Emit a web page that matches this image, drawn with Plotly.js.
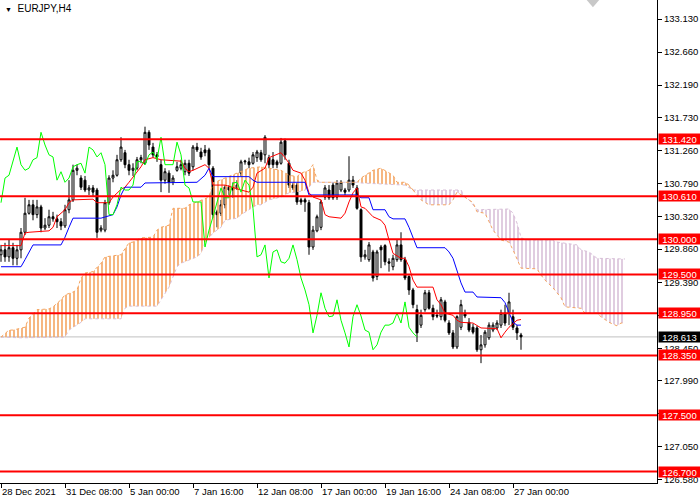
<!DOCTYPE html>
<html>
<head>
<meta charset="utf-8">
<script src="https://cdn.plot.ly/plotly-3.0.1.min.js"></script>
<style>html,body{margin:0;padding:0;background:#fff;}#chart{width:700px;height:500px;}</style>
</head>
<body>
<div id="chart"></div>
<script>
// ---- Candles (EURJPY H4) ----
const opens = [129.78,129.85,129.75,129.88,129.73,129.85,130.10,130.37,130.49,130.35,
130.46,130.16,130.20,130.32,130.29,130.25,130.19,130.42,130.56,130.98,
130.87,130.84,130.70,130.73,130.70,130.13,130.13,130.52,130.87,130.91,
131.13,131.23,131.06,130.98,131.01,131.13,131.08,131.52,131.31,131.20,
131.06,130.84,130.94,130.81,130.98,131.01,130.96,131.08,131.03,131.31,
131.24,131.27,131.27,131.01,130.39,130.37,130.49,130.74,130.74,130.73,
130.94,131.10,131.10,131.08,131.16,131.23,131.20,131.16,131.13,131.10,
131.08,131.40,131.08,130.77,130.77,130.56,130.56,130.52,129.89,130.12,
130.17,130.60,130.70,130.77,130.60,130.70,130.70,130.70,130.84,130.73,
130.42,129.75,129.71,129.82,129.47,129.89,129.91,129.68,129.61,129.71,
129.92,129.71,129.47,129.28,129.00,128.78,129.00,129.24,129.02,128.92,
128.90,129.11,128.81,128.67,128.47,128.75,128.95,128.82,128.75,128.74,
128.43,128.50,128.60,128.71,128.74,128.78,128.95,128.95,128.90,128.74,
128.64];
const highs = [129.92,129.95,129.99,129.95,129.92,130.16,130.59,130.56,130.56,130.56,
130.49,130.30,130.42,130.39,130.35,130.30,130.49,130.84,131.06,131.06,
130.91,130.90,130.77,130.77,130.73,130.20,130.56,130.91,130.98,131.20,
131.45,131.27,131.13,131.08,131.17,131.20,131.60,131.55,131.37,131.24,
131.13,131.01,130.98,130.91,131.10,131.13,131.13,131.13,131.34,131.37,
131.30,131.34,131.30,131.04,130.42,130.56,130.77,130.77,130.81,130.84,
131.13,131.13,131.16,131.24,131.27,131.27,131.48,131.20,131.24,131.13,
131.44,131.43,131.13,130.80,130.80,130.59,130.59,130.56,130.19,130.35,
130.56,130.77,130.77,130.81,130.84,130.84,130.73,131.18,130.90,130.77,
130.44,129.85,129.96,129.85,129.85,129.92,129.93,129.73,129.78,129.99,
130.10,129.75,129.49,129.31,129.07,129.00,129.28,129.28,129.07,129.00,
129.18,129.14,128.85,128.71,128.92,129.14,129.00,128.88,128.80,128.77,
128.64,128.71,128.82,128.82,128.85,129.00,129.07,129.24,129.00,128.78,
128.67];
const lows = [129.68,129.68,129.68,129.63,129.63,129.73,130.06,130.35,130.27,130.30,
130.10,130.13,130.16,130.25,130.16,130.13,130.16,130.37,130.53,130.91,
130.70,130.67,130.63,130.60,130.02,130.10,130.10,130.49,130.81,130.89,
131.10,131.01,130.91,130.90,130.98,131.08,131.06,131.27,131.16,131.10,
130.67,130.79,130.66,130.77,130.96,130.98,130.91,130.90,130.98,131.24,
131.13,131.18,131.01,130.30,130.17,130.33,130.44,130.63,130.59,130.70,
130.90,131.06,131.01,131.06,131.10,131.10,131.08,131.01,131.01,131.01,
131.06,131.13,130.73,130.70,130.49,130.49,130.39,129.78,129.85,130.10,
130.13,130.56,130.56,130.56,130.56,130.67,130.63,130.67,130.73,130.42,
129.68,129.71,129.68,129.40,129.42,129.59,129.63,129.54,129.56,129.68,
129.68,129.42,129.21,129.02,128.54,128.74,128.97,129.00,128.85,128.88,
128.85,128.82,128.64,128.44,128.44,128.71,128.88,128.68,128.65,128.40,
128.24,128.46,128.57,128.68,128.71,128.74,128.77,128.78,128.71,128.57,
128.43];
const closes = [129.85,129.75,129.88,129.73,129.85,130.10,130.37,130.49,130.35,130.46,
130.16,130.20,130.32,130.29,130.25,130.19,130.42,130.56,130.98,131.01,
130.74,130.70,130.73,130.67,130.10,130.16,130.52,130.87,130.91,131.13,
131.31,131.06,130.98,131.01,131.13,131.16,131.52,131.34,131.20,131.17,
130.84,130.96,130.81,130.87,131.03,131.06,131.08,130.94,131.31,131.27,
131.17,131.23,131.06,130.35,130.35,130.49,130.74,130.70,130.70,130.77,
131.10,131.11,131.06,131.20,131.24,131.13,131.45,131.06,131.06,131.06,
131.38,131.20,130.77,130.73,130.53,130.53,130.53,129.89,130.13,130.32,
130.53,130.73,130.59,130.59,130.80,130.81,130.67,130.84,130.77,130.44,
129.75,129.78,129.92,129.45,129.82,129.85,129.68,129.66,129.73,129.92,
129.71,129.45,129.28,129.07,128.67,128.92,129.24,129.02,128.90,128.91,
129.14,128.85,128.67,128.47,128.90,129.07,128.91,128.71,128.68,128.43,
128.50,128.68,128.78,128.78,128.81,128.95,128.81,129.11,128.75,128.67,
128.613];
const chikouShift = 26;

// ---- Ichimoku lines (bar index, price) ----
const tenkanIdx = [0,5,6,7,12,13,14,15,16,17,18,23,24,27,28,30,31,32,35,36,38,40,45,46,47,48,50,51,52,53,56,58,60,62,63,64,65,66,67,69,70,71,72,73,75,76,77,78,80,81,82,85,86,87,88,89,90,91,93,95,96,97,98,100,101,102,103,104,108,109,110,111,113,114,115,118,120,124,125,126,127,129,130];
const tenkanVal = [129.91,129.91,130.09,130.10,130.12,130.17,130.32,130.37,130.42,130.52,130.56,130.57,130.52,130.52,130.60,130.71,130.74,130.81,131.03,131.13,131.16,131.13,131.11,131.01,130.96,130.98,131.03,131.06,131.01,130.77,130.77,130.73,130.70,130.67,130.74,130.94,130.98,131.01,131.16,131.20,131.23,131.16,131.08,130.98,130.94,130.84,130.66,130.60,130.56,130.35,130.32,130.30,130.37,130.53,130.66,130.73,130.46,130.44,130.32,130.27,130.20,129.99,129.80,129.73,129.73,129.61,129.42,129.32,129.32,129.14,129.07,128.95,128.92,128.85,128.82,128.81,128.74,128.73,128.60,128.68,128.75,128.85,128.86];
const kijunIdx = [0,5,6,7,8,15,16,17,18,25,26,28,29,30,31,35,36,49,50,51,52,53,54,62,63,64,76,77,89,90,92,93,96,97,98,101,102,103,104,111,112,113,114,115,116,118,119,125,126,127,128,129,130];
const kijunVal = [129.61,129.61,129.71,129.82,129.92,129.92,130.03,130.17,130.30,130.30,130.32,130.35,130.46,130.63,130.74,130.74,130.80,130.81,130.86,130.91,131.01,130.89,130.89,130.89,130.84,130.81,130.81,130.63,130.63,130.59,130.59,130.42,130.42,130.32,130.29,130.29,130.17,130.02,129.88,129.88,129.82,129.73,129.54,129.38,129.25,129.25,129.18,129.17,129.10,128.95,128.82,128.78,128.78];
const spanAIdx = [0,2,3,5,6,7,9,12,13,15,16,18,19,20,21,23,25,26,30,32,33,35,38,39,40,42,43,46,47,49,52,53,62,65,70,72,74,75,77,78,79,80,89,90,93,95,96,98,99,101,102,103,105,107,112,113,114,117,118,119,121,122,123,125,127,128,129,130,134,135,136,138,140,141,145,146,149,150,152,154,155,156];
const spanAVal = [128.61,128.71,128.71,128.74,128.75,128.88,129.00,129.01,129.04,129.14,129.21,129.25,129.28,129.45,129.52,129.54,129.66,129.75,129.78,129.95,129.96,130.02,130.03,130.13,130.17,130.20,130.44,130.44,130.49,130.53,130.60,130.80,131.01,131.03,130.98,130.91,130.89,130.94,130.98,131.06,130.84,130.81,130.81,130.87,130.98,131.01,130.98,130.91,130.81,130.81,130.77,130.70,130.56,130.49,130.49,130.56,130.67,130.56,130.52,130.39,130.37,130.25,130.13,129.99,129.96,129.85,129.71,129.59,129.58,129.49,129.42,129.31,129.17,129.04,129.02,128.95,128.95,128.90,128.82,128.77,128.81,128.81];
const spanBIdx = [0,5,16,17,20,21,30,31,32,39,40,42,44,45,49,50,51,53,55,56,59,60,62,64,65,67,70,72,74,76,77,78,89,90,101,103,115,116,117,119,127,128,129,130,131,138,139,144,145,147,149,156];
const spanBVal = [128.61,128.60,128.61,128.71,128.82,128.87,128.87,129.02,129.05,129.05,129.14,129.32,129.61,129.66,129.75,129.80,129.95,130.09,130.17,130.27,130.30,130.35,130.42,130.49,130.49,130.56,130.60,130.66,130.67,130.70,130.74,130.81,130.81,130.80,130.77,130.70,130.70,130.60,130.56,130.42,130.43,130.37,130.23,130.03,129.99,129.99,129.96,129.92,129.85,129.82,129.73,129.72];
const cloudSwitchIdx = 103;

// ---- Levels and axis labels ----
const levels = [131.420,130.610,130.000,129.500,128.950,128.350,127.500,126.700];
const currentPrice = 128.613;
const yTickVals = [133.13,132.66,132.19,131.73,131.26,130.79,130.32,129.86,129.39,128.92,128.45,127.99,127.52,127.05,126.58];
const yTickHidden = [128.92,127.52]; // covered by level labels in the reference
const xTickIdx = [0,16,32,48,64,80,96,112,128];
const xTickText = ['28 Dec 2021','31 Dec 08:00','5 Jan 00:00','7 Jan 16:00','12 Jan 08:00','17 Jan 00:00','19 Jan 16:00','24 Jan 08:00','27 Jan 00:00'];
const symbolTitle = 'EURJPY,H4';

const barIdx = closes.map((_, i) => i);
const FONT = 'Liberation Sans, Arial, sans-serif';

function pick(idx, val, test) {
  const xs = [], ys = [];
  idx.forEach((v, k) => { if (test(v)) { xs.push(v); ys.push(val[k]); } });
  return {xs, ys};
}
function cloudPair(test, color) {
  const b = pick(spanBIdx, spanBVal, test);
  const a = pick(spanAIdx, spanAVal, test);
  return [
    {x: b.xs, y: b.ys, type: 'scatter', mode: 'lines', hoverinfo: 'skip',
     line: {color: '#D8BFD8', width: 1, dash: 'dot'}},
    {x: a.xs, y: a.ys, type: 'scatter', mode: 'lines', hoverinfo: 'skip',
     line: {color: '#F4A460', width: 1, dash: 'dot'},
     fill: 'tonexty', fillcolor: 'rgba(0,0,0,0)',
     fillpattern: {shape: '|', fgcolor: color, bgcolor: 'rgba(0,0,0,0)', size: 4, solidity: 0.4, fgopacity: 1}}
  ];
}

const traces = [].concat(
  cloudPair(v => v <= cloudSwitchIdx, '#F4A460'),
  cloudPair(v => v >= cloudSwitchIdx, '#D8BFD8'),
  [{
    type: 'candlestick', x: barIdx, open: opens, high: highs, low: lows, close: closes,
    increasing: {line: {color: '#000000', width: 1}, fillcolor: '#FFFFFF'},
    decreasing: {line: {color: '#000000', width: 1}, fillcolor: '#000000'},
    whiskerwidth: 0, hoverinfo: 'skip'
  },
  {x: tenkanIdx, y: tenkanVal, type: 'scatter', mode: 'lines', line: {color: '#FF0000', width: 1}, hoverinfo: 'skip'},
  {x: kijunIdx, y: kijunVal, type: 'scatter', mode: 'lines', line: {color: '#0000FF', width: 1}, hoverinfo: 'skip'},
  {x: barIdx.slice(0, closes.length - chikouShift), y: closes.slice(chikouShift), type: 'scatter', mode: 'lines',
   line: {color: '#00FF00', width: 1}, hoverinfo: 'skip'}]
);

const shapes = [
  {type: 'line', xref: 'paper', x0: 0, x1: 1, yref: 'y', y0: currentPrice, y1: currentPrice,
   line: {color: '#C0C0C0', width: 1}, layer: 'below'}
].concat(levels.map(l => ({type: 'line', xref: 'paper', x0: 0, x1: 1, yref: 'y', y0: l, y1: l,
   line: {color: '#FF0000', width: 2}, layer: 'above'})));
shapes.push({type: 'path', xref: 'paper', yref: 'paper',
  path: 'M 0.893 1 L 0.912 1 L 0.9025 0.985 Z', fillcolor: '#C8C8C8', line: {width: 0}});

const annotations = levels.map(l => ({
  xref: 'paper', x: 1, xanchor: 'left', xshift: 1, yref: 'y', y: l, yanchor: 'middle',
  text: l.toFixed(3), showarrow: false, bgcolor: '#FF0000', borderpad: 0, width: 41, height: 10,
  align: 'center', font: {family: FONT, size: 9.5, color: '#FFFFFF'}
}));
annotations.push({
  xref: 'paper', x: 1, xanchor: 'left', xshift: 1, yref: 'y', y: currentPrice, yanchor: 'middle',
  text: currentPrice.toFixed(3), showarrow: false, bgcolor: '#000000', borderpad: 0, width: 41, height: 10,
  align: 'center', font: {family: FONT, size: 9.5, color: '#FFFFFF'}
});
annotations.push({
  xref: 'paper', x: 0, xanchor: 'left', xshift: 3, yref: 'paper', y: 1, yanchor: 'top', yshift: -1,
  text: '<span style="font-size:7px">▼</span>  ' + symbolTitle, showarrow: false,
  font: {family: FONT, size: 10, color: '#000000'}
});

const layout = {
  width: 700, height: 500,
  margin: {l: 0, r: 43, t: 0, b: 17},
  paper_bgcolor: '#FFFFFF', plot_bgcolor: '#FFFFFF',
  showlegend: false,
  xaxis: {
    range: [-0.25, 164], showgrid: false, zeroline: false,
    showline: true, linecolor: '#000000', linewidth: 1,
    ticks: 'outside', ticklen: 4, tickcolor: '#000000',
    tickvals: xTickIdx, ticktext: xTickText, ticklabelposition: 'outside right', tickangle: 0,
    tickfont: {family: FONT, size: 9.5, color: '#000000'},
    rangeslider: {visible: false}, fixedrange: true
  },
  yaxis: {
    side: 'right', range: [126.537, 133.40], showgrid: false, zeroline: false,
    showline: true, linecolor: '#000000', linewidth: 1,
    ticks: 'outside', ticklen: 4, tickcolor: '#000000',
    tickvals: yTickVals,
    ticktext: yTickVals.map(v => yTickHidden.includes(v) ? '' : v.toFixed(3)),
    tickfont: {family: FONT, size: 9.5, color: '#000000'}, fixedrange: true
  },
  shapes: shapes,
  annotations: annotations
};

Plotly.newPlot('chart', traces, layout, {displayModeBar: false, staticPlot: true});
</script>
</body>
</html>
